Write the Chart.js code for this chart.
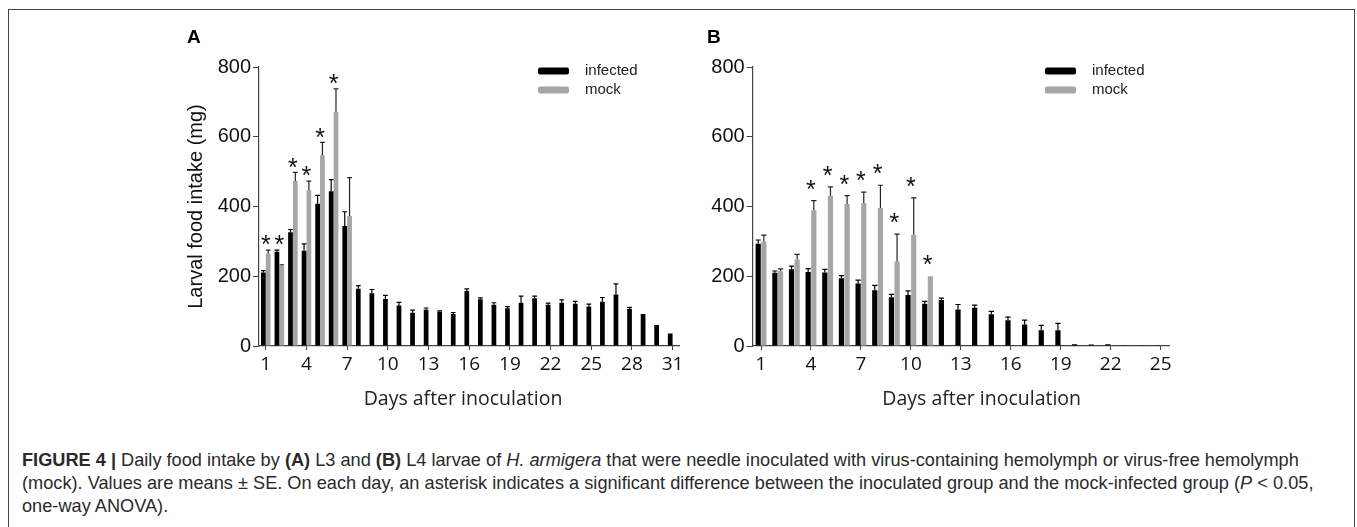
<!DOCTYPE html>
<html><head><meta charset="utf-8">
<script src="https://cdn.jsdelivr.net/npm/chart.js@4.4.1/dist/chart.umd.min.js"></script>
<style>
html,body{margin:0;padding:0;background:#fff;width:1357px;height:527px;overflow:hidden;}
#frame{position:absolute;left:8px;top:9px;width:1347px;height:640px;border:1px solid #444;box-sizing:border-box;}
canvas{position:absolute;top:0;}
#cA{left:0px}
#cB{left:700px}
#caption{position:absolute;left:22px;top:449px;font-family:"Liberation Sans",Arial,sans-serif;font-size:18.2px;line-height:23px;color:#2a2a2a;white-space:nowrap;}
</style></head><body>
<div id="frame"></div>
<canvas id="cA" width="700" height="430"></canvas>
<canvas id="cB" width="657" height="430"></canvas>
<div id="caption"><b>FIGURE 4 |</b> Daily food intake by <b>(A)</b> L3 and <b>(B)</b> L4 larvae of <i>H. armigera</i> that were needle inoculated with virus-containing hemolymph or virus-free hemolymph<br>(mock). Values are means ± SE. On each day, an asterisk indicates a significant difference between the inoculated group and the mock-infected group (<i>P</i> &lt; 0.05,<br>one-way ANOVA).</div>
<script>
// ---------- DATA ----------
const seriesNames = ['infected', 'mock'];
const yTicks = [0, 200, 400, 600, 800];

// Panel A (L3 larvae)
const daysA = [1,2,3,4,5,6,7,8,9,10,11,12,13,14,15,16,17,18,19,20,21,22,23,24,25,26,27,28,29,30,31];
const tickLabelsA = [1,4,7,10,13,16,19,22,25,28,31];
const infectedA = [211,270,326,273,408,444,344,164,151,135,116,95,104,98,92,158,134,118,108,124,137,118,124,121,113,127,148,107,92,60,36];
const infectedA_se = [5,5,8,20,24,33,41,9,11,10,9,8,5,3,4,6,4,6,5,19,6,5,8,7,7,12,30,4,0,0,0];
const mockA = [265,230,473,447,547,672,373,null,null,null,null,null,null,null,null,null,null,null,null,null,null,null,null,null,null,null,null,null,null,null,null];
const mockA_se = [10,3,25,26,37,65,110,0,0,0,0,0,0,0,0,0,0,0,0,0,0,0,0,0,0,0,0,0,0,0,0];
const sigDaysA = [1,2,3,4,5,6];

// Panel B (L4 larvae)
const daysB = [1,2,3,4,5,6,7,8,9,10,11,12,13,14,15,16,17,18,19,20,21,22,23,24,25];
const tickLabelsB = [1,4,7,10,13,16,19,22,25];
const infectedB = [293,210,220,212,211,194,179,160,140,146,121,132,105,110,91,74,62,45,45,5,4,5,2,2,2];
const infectedB_se = [11,5,9,10,9,8,10,14,8,12,7,5,14,7,8,9,12,14,20,0,0,0,0,0,0];
const mockB = [300,214,248,389,431,407,410,396,242,319,200,null,null,null,null,null,null,null,null,null,null,null,null,null,null];
const mockB_se = [18,7,15,28,25,24,31,65,79,106,0,0,0,0,0,0,0,0,0,0,0,0,0,0,0];
const sigDaysB = [4,5,6,7,8,9,10,11];

// ---------- DRAWING ----------
const overlay = {
  id: 'overlay',
  afterDatasetsDraw(chart, args, o) {
    const ctx = chart.ctx, ys = chart.scales.y, xs = chart.scales.x;
    ctx.save();
    chart.data.datasets.forEach((ds, di) => {
      const meta = chart.getDatasetMeta(di);
      const se = o.errors[di];
      meta.data.forEach((bar, i) => {
        const v = ds.data[i], e = se[i];
        if (v == null || !e) return;
        const t = ys.getPixelForValue(v + e);
        const hw = bar.width * 0.5;
        ctx.strokeStyle = o.errColors[di];
        ctx.lineWidth = 1.2;
        ctx.beginPath();
        ctx.moveTo(bar.x, bar.y); ctx.lineTo(bar.x, t);
        ctx.moveTo(bar.x - hw, t); ctx.lineTo(bar.x + hw, t);
        ctx.stroke();
      });
    });
    // significance asterisks
    ctx.fillStyle = '#111';
    ctx.font = '25px "Liberation Sans", Arial, sans-serif';
    ctx.textAlign = 'center';
    ctx.textBaseline = 'alphabetic';
    o.sig.forEach(day => {
      const i = chart.data.labels.indexOf(day);
      let top = Infinity;
      chart.data.datasets.forEach((ds, di) => {
        const v = ds.data[i];
        if (v == null) return;
        const e = o.errors[di][i] || 0;
        top = Math.min(top, ys.getPixelForValue(v + e));
      });
      ctx.fillText('*', xs.getPixelForValue(i), top - o.starGap + 14.2);
    });
    ctx.restore();
  },
  afterDraw(chart, args, o) {
    const ctx = chart.ctx;
    ctx.save();
    // legend
    chart.data.datasets.forEach((ds, di) => {
      const y = o.legendY[di];
      ctx.fillStyle = ds.backgroundColor;
      ctx.beginPath();
      ctx.roundRect(o.legendX, y - 3.5, 31, 7, 2);
      ctx.fill();
      ctx.fillStyle = '#222';
      ctx.font = '15px "Liberation Sans", Arial, sans-serif';
      ctx.textAlign = 'left';
      ctx.textBaseline = 'middle';
      ctx.fillText(ds.label, o.legendTextX, y);
    });
    // panel letter
    ctx.fillStyle = '#000';
    ctx.font = 'bold 19px "Liberation Sans", Arial, sans-serif';
    ctx.textAlign = 'left';
    ctx.textBaseline = 'alphabetic';
    ctx.fillText(o.panel, o.panelX, 43);
    // x axis title
    ctx.fillStyle = '#222';
    ctx.font = '19.5px "Open Sans", sans-serif';
    ctx.textAlign = 'center';
    ctx.textBaseline = 'middle';
    ctx.fillText(o.xTitle, o.xTitleX, 399);
    ctx.restore();
  }
};

function makePanel(id, days, tickLabels, inf, infSe, mock, mockSe, sig, geo) {
  const tickColor = '#444';
  return new Chart(document.getElementById(id), {
    type: 'bar',
    data: {
      labels: days,
      datasets: [
        { label: seriesNames[0], data: inf, backgroundColor: '#000000', borderWidth: 0,
          categoryPercentage: geo.cat, barPercentage: geo.bar },
        { label: seriesNames[1], data: mock, backgroundColor: '#a6a6a6', borderWidth: 0,
          categoryPercentage: geo.cat, barPercentage: geo.bar }
      ]
    },
    options: {
      responsive: false, animation: false, devicePixelRatio: 1,
      layout: { padding: { left: geo.padLeft, top: 67, right: geo.padRight, bottom: 0 } },
      plugins: {
        legend: { display: false }, tooltip: { enabled: false },
        overlay: {
          errors: [infSe, mockSe], errColors: ['#000', '#222'], sig: sig, starGap: geo.starGap,
          legendX: geo.legendX, legendTextX: geo.legendTextX, legendY: [71, 90],
          panel: geo.panel, panelX: geo.panelX, xTitle: 'Days after inoculation', xTitleX: geo.xTitleX
        }
      },
      scales: {
        x: {
          offset: true,
          grid: { display: true, drawOnChartArea: false, drawTicks: true, tickLength: 4, offset: false,
                  color: (c) => (c.index !== undefined && tickLabels.includes(days[c.index])) ? tickColor : 'rgba(0,0,0,0)' },
          border: { display: true, color: tickColor, width: 1.2 },
          ticks: { autoSkip: false, maxRotation: 0, minRotation: 0, padding: 3, color: '#111',
                   font: { family: 'Open Sans', size: 19 },
                   callback: (v, i) => tickLabels.includes(days[i]) ? String(days[i]) : '' },
          afterFit: (s) => { s.height = 84; }
        },
        y: {
          min: yTicks[0], max: yTicks[yTicks.length - 1],
          afterBuildTicks: (s) => { s.ticks = yTicks.map(v => ({ value: v })); },
          grid: { display: true, drawOnChartArea: false, drawTicks: true, tickLength: 6, color: tickColor },
          border: { display: true, color: tickColor, width: 1.2 },
          ticks: { padding: 2, color: '#111', font: { family: 'Liberation Sans', size: 20 } },
          title: { display: geo.yTitle, text: 'Larval food intake (mg)', color: '#111', padding: 0,
                   font: { family: 'Liberation Sans', size: 20 } },
          afterFit: (s) => { s.width = geo.yWidth; }
        }
      }
    },
    plugins: [overlay]
  });
}

makePanel('cA', daysA, tickLabelsA, infectedA, infectedA_se, mockA, mockA_se, sigDaysA, {
  cat: 0.71, bar: 0.98, padLeft: 184, padRight: 700 - 679.4, yWidth: 75, yTitle: true,
  starGap: 11, legendX: 538, legendTextX: 585, panel: 'A', panelX: 187, xTitleX: 463
});
makePanel('cB', daysB, tickLabelsB, infectedB, infectedB_se, mockB, mockB_se, sigDaysB, {
  cat: 0.68, bar: 0.92, padLeft: 0, padRight: 657 - 469, yWidth: 52.7, yTitle: false,
  starGap: 17, legendX: 345, legendTextX: 392, panel: 'B', panelX: 7, xTitleX: 281.7
});
</script>
</body></html>
